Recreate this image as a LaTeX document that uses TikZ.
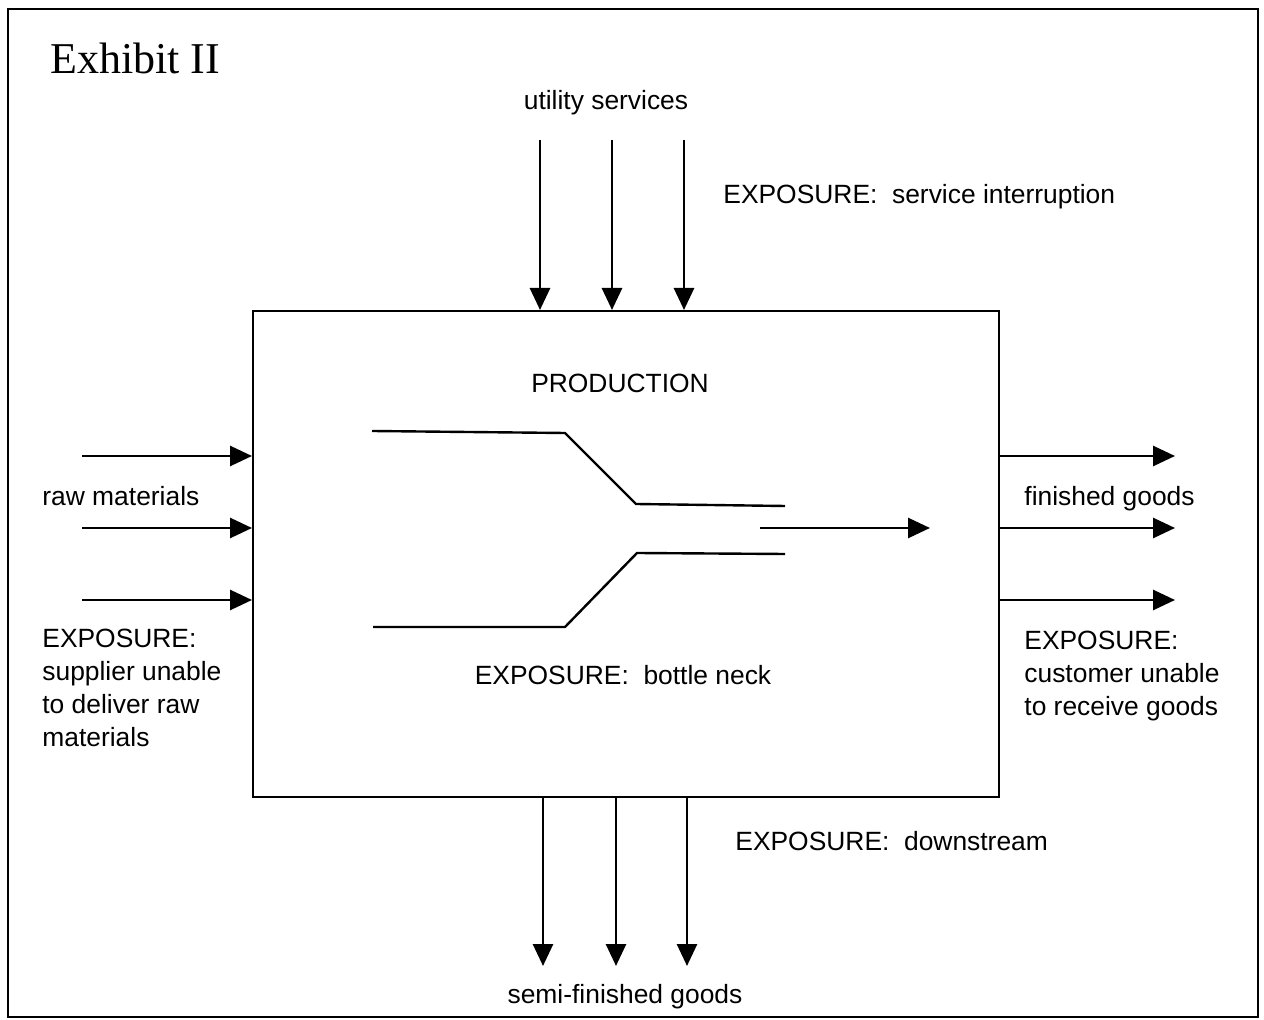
\documentclass[tikz,border=0pt]{standalone}
\usepackage{fontspec}
\setmainfont{Liberation Sans}
\newfontfamily\exhibitfont{Liberation Serif}
\usetikzlibrary{arrows.meta,positioning}

\begin{document}
\begin{tikzpicture}[x=0.5pt,y=-0.5pt,
  font=\fontsize{13.2}{16.5}\selectfont,
  flow/.style={line width=1.4pt,-{Triangle[length=11pt,width=10pt]}},
  label/.style={inner sep=0pt},
  note/.style={inner sep=0pt,align=left,anchor=north west}]
\useasboundingbox (0,0) rectangle (1264,1020);
\node[draw,line width=1pt,minimum width=625pt,minimum height=504pt,inner sep=0pt] (frame) at (633,513) {};
\node[label,anchor=west,font=\exhibitfont\fontsize{22}{26}\selectfont] (title) at (50,58) {Exhibit II};
\node[draw,line width=1pt,minimum width=373pt,minimum height=243pt,inner sep=0pt] (prod) at (626,554) {};
\node[label,anchor=base] (prodname) at (620,393) {PRODUCTION};
\node[label,anchor=base] (neck) at (623,685) {EXPOSURE:\ \ bottle neck};
\node[label,anchor=base] (util) at (606,110) {utility services};
\node[label,anchor=base west] (utilexp) at (723,204) {EXPOSURE:\ \ service interruption};
\node[label,anchor=base west] (raw) at (42,506) {raw materials};
\node[note] (rawexp) at (42,629) {EXPOSURE:\\supplier unable\\to deliver raw\\materials};
\node[label,anchor=base west] (fin) at (1024,506) {finished goods};
\node[note] (finexp) at (1024,631) {EXPOSURE:\\customer unable\\to receive goods};
\node[label,anchor=base west] (downexp) at (735,850) {EXPOSURE:\ \ downstream};
\node[label,anchor=base] (semi) at (625,1003) {semi-finished goods};
\foreach \x [count=\i] in {540,612,684} {
  \coordinate (u\i) at (\x,140);
  \draw[flow] (u\i) -- (u\i |- prod.north);
}
\foreach \y [count=\i] in {456,528,600} {
  \coordinate (r\i) at (82,\y);
  \coordinate (f\i) at (1175,\y);
  \draw[flow] (r\i) -- (r\i -| prod.west);
  \draw[flow] (prod.east |- f\i) -- (f\i);
}
\foreach \x [count=\i] in {543,616,687} {
  \coordinate (s\i) at (\x,966);
  \draw[flow] (prod.south -| s\i) -- (s\i);
}
\draw[line width=1.2pt] (372,431) -- (565,433) -- (636,504) -- (785,506);
\draw[line width=1.2pt] (373,627) -- (565,627) -- (637,553) -- (785,554);
\coordinate (neckin) at (760,528);
\coordinate (neckout) at (930,528);
\draw[flow] (neckin) -- (neckout);
\end{tikzpicture}
\end{document}
